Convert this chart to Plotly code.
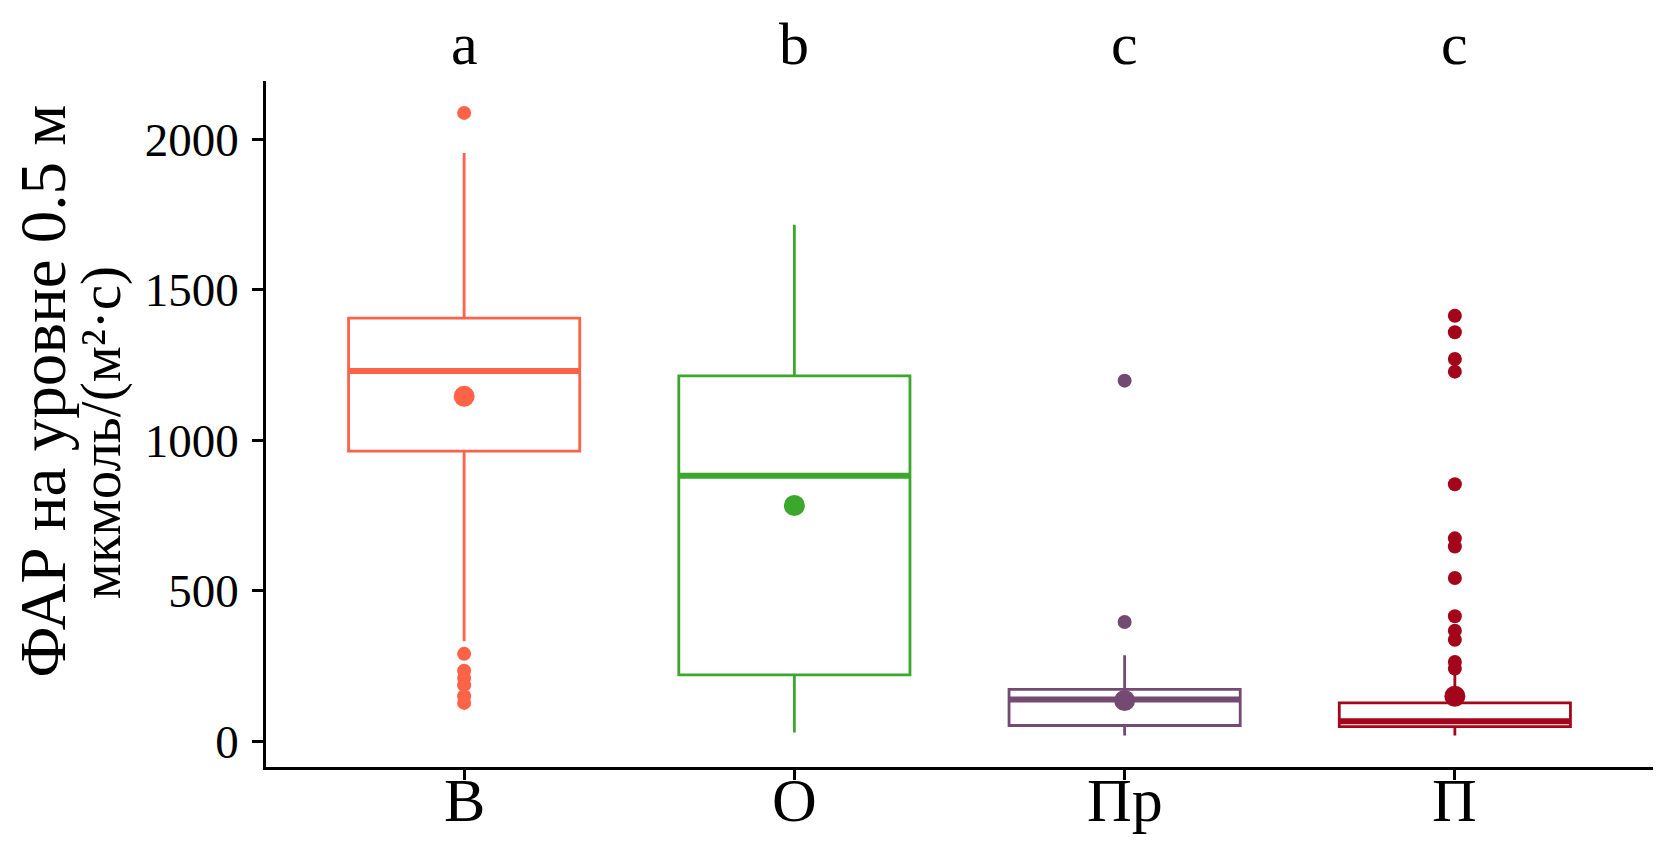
import plotly.graph_objects as go

# group labels and significance letters
groups = ['В', 'О', 'Пр', 'П']
letters = ['a', 'b', 'c', 'c']
colors = ['#FF6347', '#3BA72C', '#744A73', '#A3061A']

# box statistics (мкмоль/(м²·с))
q1 = [964, 220, 52, 48]
median = [1230, 882, 138, 66]
q3 = [1406, 1214, 172, 127]
lower_whisker = [332, 29, 19, 19]
upper_whisker = [1955, 1716, 285, 241]
means = [1146, 783, 135, 149]

# outliers per group
outliers = [
    [2088, 290, 234, 210, 186, 149, 127],
    [],
    [1198, 396],
    [1414, 1359, 1270, 1228, 854, 674, 647, 542, 415, 367, 337, 263, 241],
]

BOX_W = 0.7
FONT = 'Liberation Serif'

fig = go.Figure()

for i, g in enumerate(groups):
    # outlier points first so the box sits on top
    if outliers[i]:
        fig.add_trace(go.Scatter(
            x=[i] * len(outliers[i]), y=outliers[i], mode='markers',
            marker=dict(size=14, color=colors[i]), showlegend=False, hoverinfo='y'))

    fig.add_trace(go.Box(
        x=[i], q1=[q1[i]], median=[median[i]], q3=[q3[i]],
        lowerfence=[lower_whisker[i]], upperfence=[upper_whisker[i]],
        width=BOX_W, whiskerwidth=0,
        line=dict(color=colors[i], width=2.8),
        fillcolor='rgba(255,255,255,0)',
        boxpoints=False, name=g, showlegend=False))

    # thicker median line like ggplot
    fig.add_trace(go.Scatter(
        x=[i - BOX_W / 2, i + BOX_W / 2], y=[median[i], median[i]], mode='lines',
        line=dict(color=colors[i], width=6), showlegend=False, hoverinfo='skip'))

    # group mean
    fig.add_trace(go.Scatter(
        x=[i], y=[means[i]], mode='markers',
        marker=dict(size=21, color=colors[i]), showlegend=False, hoverinfo='y'))

    # significance letter above the panel
    fig.add_annotation(
        x=i, xref='x', y=1, yref='paper', yanchor='bottom', yshift=2, text=letters[i],
        showarrow=False, font=dict(family=FONT, size=60, color='black'))

    # category label under the axis
    fig.add_annotation(
        x=i, xref='x', y=0, yref='paper', yanchor='top', yshift=3, text=g,
        showarrow=False, font=dict(family=FONT, size=62, color='black'))

# two-line y title, second line in smaller type
fig.add_annotation(
    x=-0.161, xref='paper', y=0.548, yref='paper', xanchor='center', yanchor='middle',
    text='ФАР на уровне 0.5 м', textangle=-90, showarrow=False,
    font=dict(family=FONT, size=65, color='black'))
fig.add_annotation(
    x=-0.119, xref='paper', y=0.488, yref='paper', xanchor='center', yanchor='middle',
    text='мкмоль/(м²·с)', textangle=-90, showarrow=False,
    font=dict(family=FONT, size=57, color='black'))

fig.update_layout(
    width=1673, height=851,
    margin=dict(l=258, r=28, t=73, b=92),
    plot_bgcolor='white', paper_bgcolor='white',
    font=dict(family=FONT, color='black'),
    showlegend=False,
    xaxis=dict(
        range=[-0.6, 3.6], tickmode='array', tickvals=list(range(len(groups))),
        showticklabels=False,
        showgrid=False, zeroline=False, showline=True, linecolor='black', linewidth=2.8,
        ticks='outside', ticklen=10, tickwidth=2.8, tickcolor='black'),
    yaxis=dict(
        range=[-86, 2194], tickvals=[0, 500, 1000, 1500, 2000],
        showgrid=False, zeroline=False, showline=True, linecolor='black', linewidth=2.8,
        ticks='outside', ticklen=11, tickwidth=2.8, tickcolor='black',
        ticklabelstandoff=4,
        tickfont=dict(family=FONT, size=47, color='black')),
)

fig.write_html('out.html')
